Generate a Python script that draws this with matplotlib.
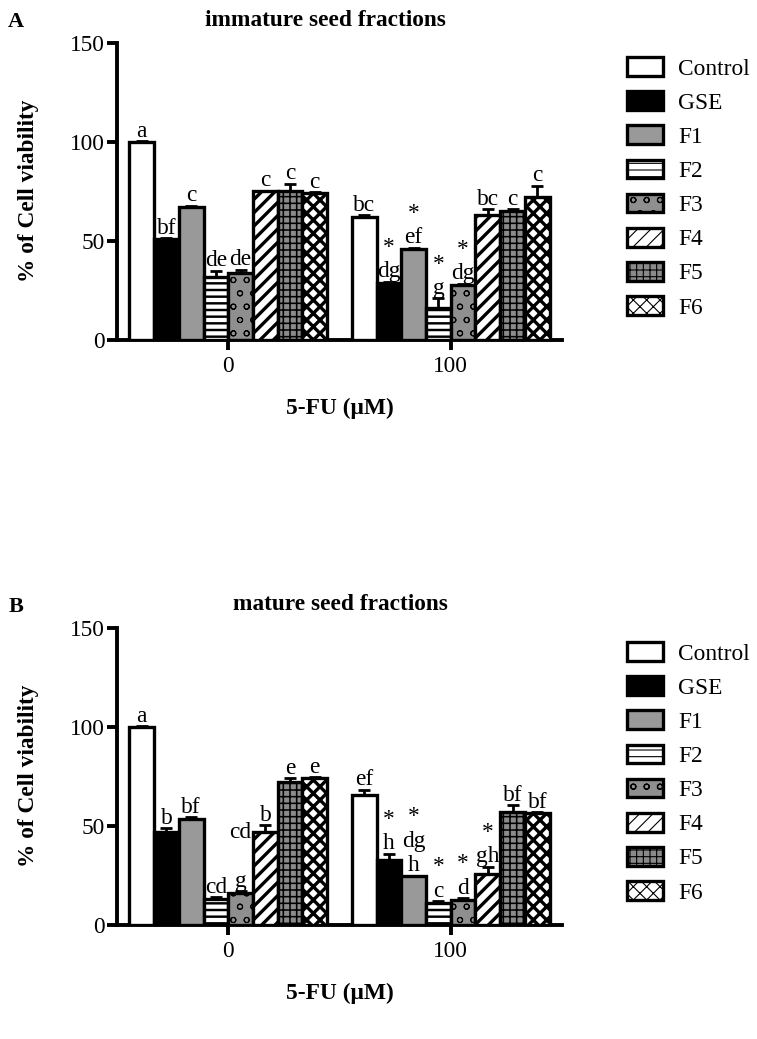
import numpy as np
import matplotlib
matplotlib.use('Agg')
import matplotlib.pyplot as plt

plt.rcParams['font.family'] = ['Liberation Serif', 'DejaVu Serif']

series = ['Control', 'GSE', 'F1', 'F2', 'F3', 'F4', 'F5', 'F6']
doses = ['0', '100']

# panel A, immature seed fractions
a_0 = [100, 51, 67, 32, 34, 75, 75, 74]
a_0_err = [0.5, 0.5, 0.8, 3, 1.5, 0.5, 4, 0.5]
a_100 = [62, 29, 46, 16, 28, 63, 65, 72]
a_100_err = [1, 0.5, 0.5, 5, 0.5, 3, 1, 6]
a_0_lab = [['a'], ['bf'], ['c'], ['de'], ['de'], ['c'], ['c'], ['c']]
a_100_lab = [['bc'], ['dg', '*'], ['ef', '*'], ['g', '*'], ['dg', '*'], ['bc'], ['c'], ['c']]

# panel B, mature seed fractions
b_0 = [100, 47, 53.5, 13, 16, 47, 72, 74]
b_0_err = [0.5, 2, 1, 1, 1, 3.5, 2, 0.5]
b_100 = [65.5, 33, 24.5, 11, 12.5, 26, 57, 56.5]
b_100_err = [2.8, 3, 0.5, 1, 1, 3.5, 3.5, 0.5]
b_0_lab = [['a'], ['b'], ['bf'], ['cd'], ['g', '', 'cd'], ['b'], ['e'], ['e']]
b_100_lab = [['ef'], ['h', '*'], ['h', 'dg', '*'], ['c', '*'], ['d', '*'], ['gh', '*'], ['bf'], ['bf']]

fills = ['white', 'black', '#999999', 'white', '#8f8f8f', 'white', '#8a8a8a', 'white']
hatches = [None, None, None, '--', 'o', '//', '++', 'xx']
hatch_lw = [1, 1, 1, 2.2, 0.9, 3.0, 1.4, 3.0]

W, H = 757, 1039
DPI = 80
FS = 21


def panel(fig, top_px, vals0, err0, vals1, err1, lab0, lab1, letter, title, title_x):
    ax_left, ax_right = 117, 562
    ax_top, ax_bot = top_px, top_px + 297
    ax = fig.add_axes([ax_left / W, 1 - ax_bot / H, (ax_right - ax_left) / W, (ax_bot - ax_top) / H])
    handles = []
    for i, name in enumerate(series):
        xs = [i, 9 + i]
        ys = [vals0[i], vals1[i]]
        es = [err0[i], err1[i]]
        ax.errorbar(xs, ys, yerr=[[0, 0], es], fmt='none', ecolor='black',
                    elinewidth=2.5, capsize=5, capthick=2.5, zorder=2)
        with plt.rc_context({'hatch.linewidth': hatch_lw[i]}):
            bars = ax.bar(xs, ys, width=1.0, color=fills[i], edgecolor='black',
                          linewidth=3, hatch=hatches[i], label=name, zorder=3)
        for p in bars.patches:
            if hasattr(p, 'set_hatch_linewidth'):
                p.set_hatch_linewidth(hatch_lw[i])
        handles.append(bars)
        for x, y, e, labs in zip(xs, ys, es, [lab0[i], lab1[i]]):
            for k, t in enumerate(labs):
                if not t:
                    continue
                ax.annotate(t, (x, y + e), xytext=(0, 4 + 22 * k), textcoords='offset points',
                            ha='center', va='baseline', fontsize=FS, zorder=5,
                            annotation_clip=False)
    ax.set_xlim(-1, 17)
    ax.set_ylim(0, 150)
    ax.set_yticks([0, 50, 100, 150])
    ax.set_xticks([3.5, 12.5])
    ax.set_xticklabels(doses)
    for s in ['top', 'right']:
        ax.spines[s].set_visible(False)
    for s in ['left', 'bottom']:
        ax.spines[s].set_linewidth(3.5)
    ax.tick_params(axis='both', length=9, width=3.5, labelsize=FS, pad=2)
    ax.tick_params(axis='x', pad=5)

    fig.text(16 / W, 1 - (top_px - 21) / H, letter, fontsize=20, fontweight='bold',
             ha='center', va='center')
    fig.text(title_x / W, 1 - (top_px - 23) / H, title, fontsize=FS, fontweight='bold',
             ha='center', va='center')
    fig.text(29 / W, 1 - (top_px + 148) / H, '% of Cell viability', fontsize=FS,
             fontweight='bold', rotation=90, ha='center', va='center')
    fig.text(340 / W, 1 - (top_px + 365) / H, '5-FU (\u03bcM)', fontsize=FS,
             fontweight='bold', ha='center', va='center')

    ax.legend(handles, series, loc='upper left', bbox_to_anchor=(1.146, 0.952),
              frameon=False, fontsize=FS, handlelength=1.55, handleheight=0.86,
              handletextpad=0.64, labelspacing=0.5, borderpad=0, borderaxespad=0)
    return ax


fig = plt.figure(figsize=(W / DPI, H / DPI), dpi=DPI)
panel(fig, 43, a_0, a_0_err, a_100, a_100_err, a_0_lab, a_100_lab, 'A',
      'immature seed fractions', 325)
panel(fig, 628, b_0, b_0_err, b_100, b_100_err, b_0_lab, b_100_lab, 'B',
      'mature seed fractions', 340)
fig.savefig('out.png', dpi=DPI)
